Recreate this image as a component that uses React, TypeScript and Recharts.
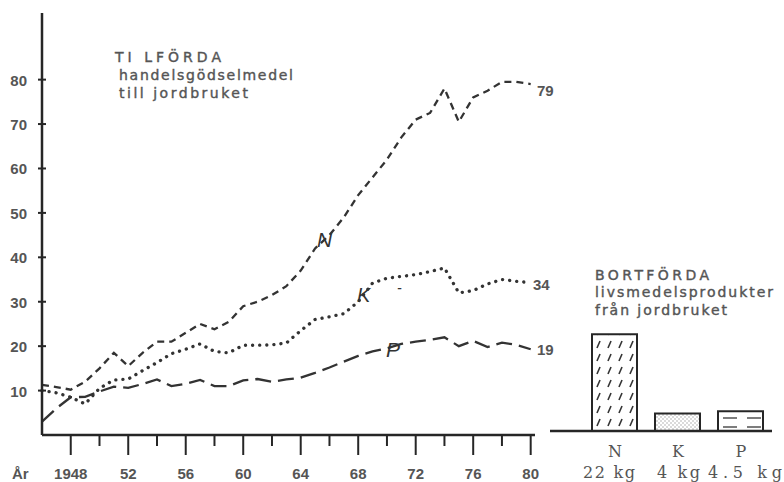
import { LineChart, Line, XAxis, YAxis, BarChart, Bar, Cell } from 'recharts';

// År 1946–1980, tillförda handelsgödselmedel (kg/ha)
const years = [
    1946, 1947, 1948, 1949, 1950, 1951, 1952, 1953, 1954, 1955, 1956, 1957,
    1958, 1959, 1960, 1961, 1962, 1963, 1964, 1965, 1966, 1967, 1968, 1969,
    1970, 1971, 1972, 1973, 1974, 1975, 1976, 1977, 1978, 1979, 1980,
];
const nValues = [
    11.3, 10.8, 10.2, 12, 15, 18.5, 15.5, 18.5, 21, 21, 23, 25,
    23.8, 25.5, 29, 30, 31.5, 33.5, 37, 42, 45, 49, 54, 58,
    62, 67, 71, 72.5, 78, 70.5, 76, 77.5, 79.5, 79.5, 79,
];
const kValues = [
    10, 9.5, 8.5, 7, 10.5, 12.4, 12.6, 14.5, 16.3, 18.3, 19.3, 20.5,
    18.8, 18.5, 20.2, 20.2, 20.3, 20.7, 23.5, 26, 26.6, 27.3, 30, 34.2,
    35.3, 35.7, 36.1, 36.8, 37.6, 32, 32.5, 34, 35, 34.6, 34.3,
];
const pValues = [
    3, 6, 8.5, 8.6, 9.8, 10.9, 10.6, 11.5, 12.5, 11, 11.5, 12.4,
    11, 11, 12.3, 12.6, 12, 12.5, 12.9, 14, 15.2, 16.5, 17.8, 18.8,
    19.5, 20.5, 21, 21.4, 22, 20, 21.2, 19.8, 20.8, 20.3, 19.3,
];
const yTicks = [10, 20, 30, 40, 50, 60, 70, 80];
const xTicks = [
    1948, 1950, 1952, 1954, 1956, 1958, 1960, 1962, 1964,
    1966, 1968, 1970, 1972, 1974, 1976, 1978, 1980,
];
const xLabels: Record<number, string> = {
    1948: '1948', 1952: '52', 1956: '56', 1960: '60', 1964: '64',
    1968: '68', 1972: '72', 1976: '76', 1980: '80',
};

// Bortförda livsmedelsprodukter
const barNames = ['N', 'K', 'P'];
const barValues = [22, 4, 4.5];
const barUnits = ['22 kg', '4 kg', '4.5 kg'];
const barFills = ['url(#hatchN)', 'url(#dotsK)', 'url(#linesP)'];

const lineData = years.map((year, i) => ({
    year,
    N: nValues[i],
    K: kValues[i],
    P: pValues[i],
}));
const barData = barNames.map((name, i) => ({ name, value: barValues[i] }));

const ink = '#262626';
const grey = '#555';
const tickFont = '"Liberation Sans", Arial, sans-serif';
const noteFont = '"DejaVu Sans", sans-serif';
const typeFont = '"DejaVu Serif", serif';

function YTick({ x, y, payload }: any) {
    return (
        <g>
            <line x1={x - 4} x2={x + 4} y1={y} y2={y} stroke={ink} strokeWidth={2} />
            <text x={x - 15} y={y + 6} textAnchor="end" fontFamily={tickFont}
                fontWeight={700} fontSize={15} fill={grey}>
                {payload.value}
            </text>
        </g>
    );
}

function XTick({ x, y, payload }: any) {
    const label = xLabels[payload.value];
    return (
        <g>
            <line x1={x} x2={x} y1={y} y2={y + (label ? 20 : 11)} stroke={ink} strokeWidth={2} />
            {label && (
                <text x={x} y={y + 44} textAnchor="middle" fontFamily={tickFont}
                    fontWeight={700} fontSize={15} fill={grey}>
                    {label}
                </text>
            )}
        </g>
    );
}

export default function App() {
    const layer = { position: 'absolute' as const, left: 0, top: 0 };
    return (
        <div style={{ ...layer, width: 784, height: 482, background: '#fff' }}>
            <svg width={0} height={0} style={{ position: 'absolute' }}>
                <defs>
                    <pattern id="hatchN" patternUnits="userSpaceOnUse" width={11} height={13}>
                        <line x1={3} y1={10} x2={6} y2={3} stroke="#333" strokeWidth={1.6} />
                    </pattern>
                    <pattern id="dotsK" patternUnits="userSpaceOnUse" width={4} height={4}>
                        <circle cx={1} cy={1} r={0.7} fill="#999" />
                        <circle cx={3} cy={3} r={0.7} fill="#999" />
                    </pattern>
                    <pattern id="linesP" patternUnits="userSpaceOnUse" width={24} height={9}>
                        <line x1={3} y1={4} x2={17} y2={4} stroke="#444" strokeWidth={1.4} />
                    </pattern>
                </defs>
            </svg>

            <div style={layer}>
                <LineChart width={784} height={482} data={lineData}
                    margin={{ top: 13, right: 249, bottom: 7, left: 0 }}>
                    <XAxis dataKey="year" type="number" domain={[1946, 1980.3]} ticks={xTicks}
                        height={40} tickSize={0} tickMargin={0} tick={<XTick />}
                        axisLine={{ stroke: ink, strokeWidth: 2.5 }} interval={0} />
                    <YAxis type="number" domain={[0, 95]} ticks={yTicks} width={42}
                        tickSize={0} tickMargin={0} tick={<YTick />}
                        axisLine={{ stroke: ink, strokeWidth: 2.5 }} interval={0} />
                    <Line dataKey="N" type="linear" stroke="#333" strokeWidth={2.3}
                        strokeDasharray="7 5" dot={false} isAnimationActive={false} />
                    <Line dataKey="K" type="linear" stroke="#333" strokeWidth={3.3}
                        strokeDasharray="0.1 7" strokeLinecap="round" dot={false} isAnimationActive={false} />
                    <Line dataKey="P" type="linear" stroke="#333" strokeWidth={2.3}
                        strokeDasharray="16 7" dot={false} isAnimationActive={false} />
                </LineChart>
            </div>

            <div style={layer}>
                <BarChart width={784} height={482} data={barData}
                    margin={{ top: 13, right: 12, bottom: 0, left: 550 }}>
                    <XAxis dataKey="name" height={51} tick={false} tickLine={false}
                        padding={{ left: 33, right: 0 }}
                        axisLine={{ stroke: ink, strokeWidth: 2.5 }} />
                    <YAxis hide domain={[0, 95]} />
                    <Bar dataKey="value" barSize={45} stroke={ink} strokeWidth={2}
                        isAnimationActive={false}>
                        {barData.map((d, i) => (
                            <Cell key={d.name} fill={barFills[i]} />
                        ))}
                    </Bar>
                </BarChart>
            </div>

            <svg width={784} height={482} style={{ ...layer, pointerEvents: 'none' }}>
                <g fontFamily={tickFont} fontWeight={700} fill={grey}>
                    <text x={12} y={479} fontSize={15}>År</text>
                    <text x={537} y={96} fontSize={15}>79</text>
                    <text x={533} y={290} fontSize={15}>34</text>
                    <text x={537} y={355} fontSize={15}>19</text>
                </g>
                <g fontFamily={noteFont} fontSize={14} fill={grey} stroke={grey} strokeWidth={0.4}>
                    <text x={115} y={62} textLength={106} lengthAdjust="spacing">TI LFÖRDA</text>
                    <text x={119} y={80} textLength={174} lengthAdjust="spacing">handelsgödselmedel</text>
                    <text x={119} y={98} textLength={129} lengthAdjust="spacing">till jordbruket</text>
                    <text x={595} y={280} textLength={114} lengthAdjust="spacing">BORTFÖRDA</text>
                    <text x={595} y={297} textLength={178} lengthAdjust="spacing">livsmedelsprodukter</text>
                    <text x={595} y={315} textLength={132} lengthAdjust="spacing">från jordbruket</text>
                </g>
                <g fontFamily={tickFont} fill="#333" fontStyle="italic">
                    <text x={317} y={247} fontSize={21}>N</text>
                    <text x={357} y={302} fontSize={20}>K</text>
                    <text x={386} y={357} fontSize={21}>P</text>
                    <text x={397} y={293} fontSize={14}>-</text>
                </g>
                <g fontFamily={typeFont} fontSize={16} fill={grey}>
                    {barNames.map((name, i) => (
                        <text key={name} x={615 + i * 63} y={457} textAnchor="middle">{name}</text>
                    ))}
                    <text x={583} y={478} textLength={52} lengthAdjust="spacing">{barUnits[0]}</text>
                    <text x={657} y={478} textLength={43} lengthAdjust="spacing">{barUnits[1]}</text>
                    <text x={708} y={478} textLength={74} lengthAdjust="spacing">{barUnits[2]}</text>
                </g>
            </svg>
        </div>
    );
}
